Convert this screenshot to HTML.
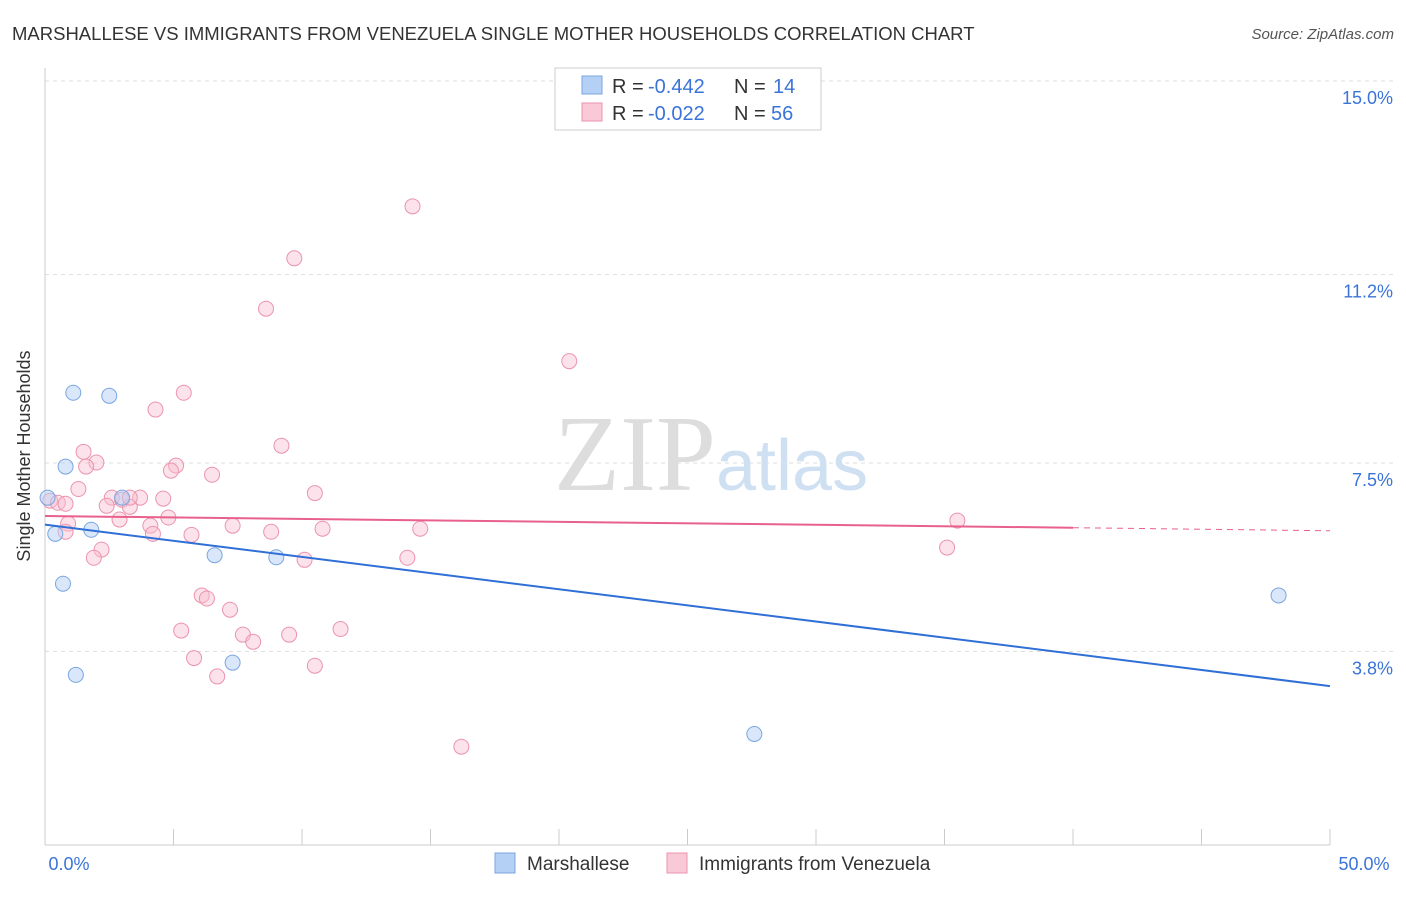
<!DOCTYPE html>
<html><head><meta charset="utf-8"><style>
body{margin:0;background:#fff;font-family:"Liberation Sans",sans-serif;}
</style></head><body>
<svg id="c" width="1406" height="892" xmlns="http://www.w3.org/2000/svg">
<text x="12" y="40" font-size="18.5" fill="#333">MARSHALLESE VS IMMIGRANTS FROM VENEZUELA SINGLE MOTHER HOUSEHOLDS CORRELATION CHART</text>
<text x="1394" y="39" font-size="15" fill="#555" text-anchor="end" font-style="italic">Source: ZipAtlas.com</text>
<text x="30" y="456" font-size="18" fill="#333" text-anchor="middle" transform="rotate(-90 30 456)">Single Mother Households</text>
<g id="grid"></g>
<text x="716" y="490" font-size="108" fill="#ddd" text-anchor="end" font-family="Liberation Serif">ZIP</text>
<text x="716" y="490" font-size="72" fill="#cfe0f3">atlas</text>
<g id="pts"></g>
<g>
<rect x="555" y="68" width="266" height="62" fill="#fff" stroke="#ccc"/>
<rect x="582" y="76" width="20" height="18" fill="#b5d0f5" stroke="#7aa6e0"/>
<rect x="582" y="103" width="20" height="18" fill="#f9c9d7" stroke="#eb94ae"/>
<text y="93" font-size="20" fill="#333"><tspan x="612">R = </tspan><tspan x="648" fill="#3b74d8">-0.442</tspan><tspan x="734">N = </tspan><tspan x="773" fill="#3b74d8">14</tspan></text>
<text y="120" font-size="20" fill="#333"><tspan x="612">R = </tspan><tspan x="648" fill="#3b74d8">-0.022</tspan><tspan x="734">N = </tspan><tspan x="771" fill="#3b74d8">56</tspan></text>
</g>
<g>
<rect x="495" y="853" width="20" height="20" fill="#b5d0f5" stroke="#7aa6e0"/>
<text x="527" y="870" font-size="19" fill="#333">Marshallese</text>
<rect x="667" y="853" width="20" height="20" fill="#f9c9d7" stroke="#eb94ae"/>
<text x="699" y="870" font-size="19" fill="#333">Immigrants from Venezuela</text>
</g>
</svg>
<script>
const xTicks=[0,5,10,15,20,25,30,35,40,45,50];
const yTicks=[3.8,7.5,11.2,15.0];
const blueX=[1.1,2.5,0.8,3.0,1.8,0.4,0.7,1.2,6.6,9.0,7.3,27.6,48.0,0.1];
const blueY=[8.88,8.82,7.43,6.82,6.19,6.11,5.13,3.34,5.69,5.65,3.58,2.18,4.90,6.82];
const pinkX=[14.3,9.7,8.6,20.4,5.4,4.3,9.2,1.5,2.0,1.6,5.1,4.9,6.5,1.3,10.5,2.6,3.7,4.6,0.2,0.5,0.8,3.0,3.3,2.4,3.3,2.9,4.8,4.1,7.3,0.9,0.8,4.2,5.7,8.8,10.8,14.6,35.5,2.2,1.9,10.1,14.1,35.1,6.1,6.3,7.2,5.3,11.5,9.5,7.7,8.1,5.8,10.5,6.7,16.2];
const pinkY=[12.54,11.52,10.53,9.50,8.88,8.55,7.84,7.72,7.51,7.43,7.45,7.35,7.27,6.99,6.91,6.82,6.82,6.80,6.76,6.72,6.70,6.78,6.64,6.66,6.82,6.39,6.43,6.27,6.27,6.31,6.15,6.11,6.09,6.15,6.21,6.21,6.37,5.80,5.64,5.60,5.64,5.84,4.90,4.84,4.62,4.21,4.24,4.13,4.13,3.99,3.67,3.52,3.31,1.93];
const blueTrend=[[0,6.29],[50,3.12]];
const pinkTrend=[[0,6.46],[40,6.23],[50,6.17]];
const X=v=>45+v*25.7, Y=v=>845-v*50.93;
const NS="http://www.w3.org/2000/svg";
function mk(t,a,p){const e=document.createElementNS(NS,t);for(const k in a)e.setAttribute(k,a[k]);p.appendChild(e);return e;}
const g=document.getElementById('grid'),pg=document.getElementById('pts');
let ax=mk('line',{x1:45,y1:845,x2:1330,y2:845,stroke:'#ccc'},g);


let ay=mk('line',{x1:45,y1:68,x2:45,y2:845,stroke:'#ccc'},g);


xTicks.forEach(v=>{const l=mk('line',{x1:X(v),x2:X(v),y1:829,y2:845,stroke:'#ccc'},g);

});
[[0,'0.0%',69],[50,'50.0%',1364]].forEach(d=>{const t=mk('text',{x:d[2],y:870,'font-size':18,fill:'#3b74d8','text-anchor':'middle'},g);t.textContent=d[1];

});
yTicks.forEach(v=>{const l=mk('line',{x1:45,x2:1393,y1:Y(v),y2:Y(v),stroke:'#ddd','stroke-dasharray':'4,4'},g);


const t=mk('text',{x:1393,y:Y(v)+23,'font-size':18,fill:'#3b74d8','text-anchor':'end'},g);t.textContent=v.toFixed(1)+'%';

});
pinkX.forEach((x,i)=>{const c=mk('circle',{cx:X(x),cy:Y(pinkY[i]),r:7.5,fill:'rgba(249,190,208,0.45)',stroke:'#eb94ae','stroke-width':1},pg);

});
blueX.forEach((x,i)=>{const c=mk('circle',{cx:X(x),cy:Y(blueY[i]),r:7.5,fill:'rgba(181,208,245,0.5)',stroke:'#7aa6e0','stroke-width':1},pg);

});
let bl=mk('line',{x1:X(blueTrend[0][0]),y1:Y(blueTrend[0][1]),x2:X(blueTrend[1][0]),y2:Y(blueTrend[1][1]),stroke:'#2f6fd6','stroke-width':2},pg);


let pl=mk('line',{x1:X(pinkTrend[0][0]),y1:Y(pinkTrend[0][1]),x2:X(pinkTrend[1][0]),y2:Y(pinkTrend[1][1]),stroke:'#e8608c','stroke-width':2},pg);


let pd=mk('line',{x1:X(pinkTrend[1][0]),y1:Y(pinkTrend[1][1]),x2:X(pinkTrend[2][0]),y2:Y(pinkTrend[2][1]),stroke:'#e8608c','stroke-width':1,'stroke-dasharray':'6,5'},pg);


</script>
</body></html>
